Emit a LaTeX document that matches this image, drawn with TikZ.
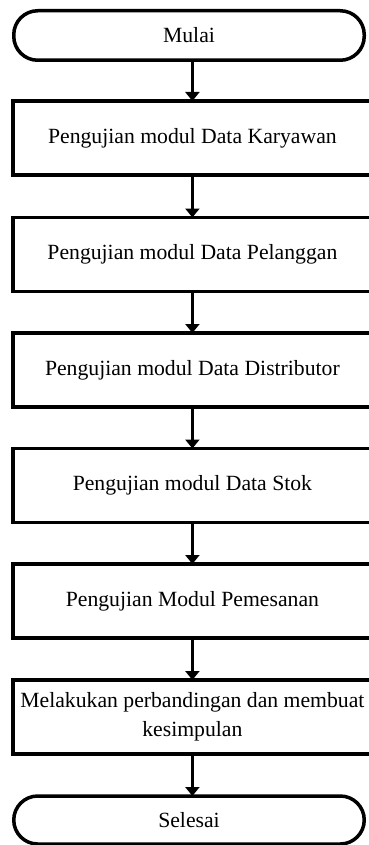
\documentclass[tikz,border=0pt]{standalone}
\usepackage{fontspec}
\setmainfont{Liberation Serif}
\usetikzlibrary{arrows.meta}
\begin{document}
\begin{tikzpicture}[x=1pt,y=-1pt,
  every node/.style={font=\fontsize{21.7}{28.5}\selectfont, inner sep=0pt, outer sep=0pt},
  stepbox/.style={draw, line width=3.5pt, rectangle, minimum width=359.25pt, minimum height=74pt, align=center},
  term/.style={draw, line width=3.5pt, rectangle, rounded corners=24pt, minimum width=350.5pt, minimum height=49.5pt},
  arr/.style={line width=3.3pt, -{Triangle[width=14pt,length=9pt]}}]
\useasboundingbox (0,0) rectangle (368,845);
\fill[white] (0,0) rectangle (368,845);
\node[term] (mulai) at (189,35.5) {Mulai};
\node[stepbox] (b1) at (192.4,138) {Pengujian modul Data Karyawan};
\node[stepbox] (b2) at (192.4,254.5) {Pengujian modul Data Pelanggan};
\node[stepbox] (b3) at (192.4,370) {Pengujian modul Data Distributor};
\node[stepbox] (b4) at (192.4,485.5) {Pengujian modul Data Stok};
\node[stepbox] (b5) at (192.4,601) {Pengujian Modul Pemesanan};
\node[stepbox] (b6) at (192.4,717) {Melakukan perbandingan dan membuat\\kesimpulan};
\node[term, minimum height=48pt] (selesai) at (189,820) {Selesai};
\draw[arr] (mulai.south -| b1.north) -- (b1.north);
\draw[arr] (b1) -- (b2);
\draw[arr] (b2) -- (b3);
\draw[arr] (b3) -- (b4);
\draw[arr] (b4) -- (b5);
\draw[arr] (b5) -- (b6);
\draw[arr] (b6.south) -- (b6.south |- selesai.north);
\end{tikzpicture}
\end{document}
